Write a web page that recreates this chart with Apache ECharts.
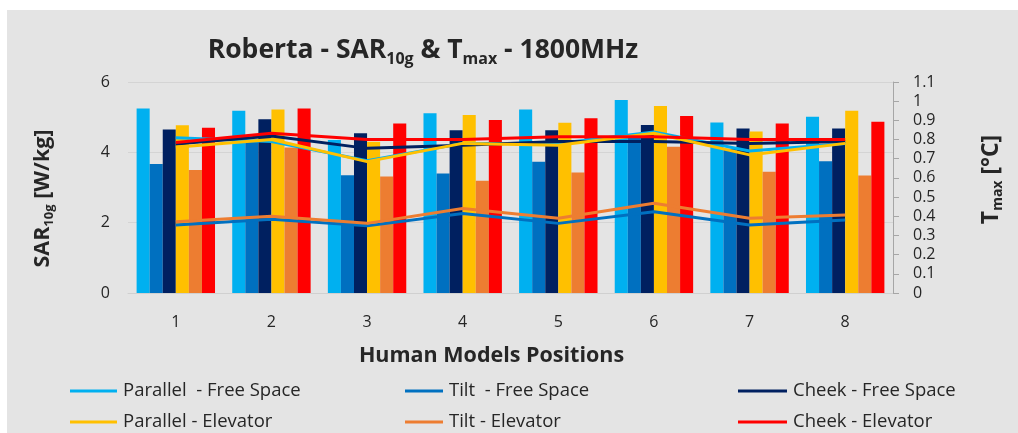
<!DOCTYPE html>
<html>
<head>
<meta charset="utf-8">
<script src="https://cdn.jsdelivr.net/npm/echarts@6/dist/echarts.min.js"></script>
<style>
  html, body { margin: 0; padding: 0; background: #ffffff; }
  #chart { width: 1018px; height: 433px; }
</style>
</head>
<body>
<div id="chart"></div>
<script>
// Human model positions on the x axis
const positions = ['1', '2', '3', '4', '5', '6', '7', '8'];

// SAR10g [W/kg] per position (bars, left axis)
const sarParallelFree = [5.25, 5.18, 4.35, 5.11, 5.22, 5.49, 4.85, 5.01];
const sarTiltFree     = [3.67, 4.30, 3.35, 3.40, 3.73, 4.45, 4.10, 3.75];
const sarCheekFree    = [4.65, 4.94, 4.54, 4.63, 4.63, 4.78, 4.68, 4.68];
const sarParallelElev = [4.77, 5.22, 4.30, 5.06, 4.84, 5.32, 4.59, 5.18];
const sarTiltElev     = [3.50, 4.14, 3.31, 3.19, 3.43, 4.16, 3.45, 3.34];
const sarCheekElev    = [4.70, 5.25, 4.82, 4.92, 4.97, 5.03, 4.82, 4.87];

// Tmax [°C] per position (lines, right axis)
const tParallelFree = [0.810, 0.790, 0.690, 0.780, 0.780, 0.840, 0.740, 0.780];
const tTiltFree     = [0.355, 0.384, 0.350, 0.415, 0.363, 0.424, 0.355, 0.380];
const tCheekFree    = [0.777, 0.818, 0.754, 0.770, 0.790, 0.790, 0.780, 0.790];
const tParallelElev = [0.760, 0.800, 0.685, 0.780, 0.770, 0.833, 0.720, 0.780];
const tTiltElev     = [0.372, 0.400, 0.363, 0.440, 0.390, 0.468, 0.390, 0.407];
const tCheekElev    = [0.784, 0.833, 0.800, 0.800, 0.815, 0.815, 0.800, 0.800];

const seriesNames = [
  'Parallel  - Free Space', 'Tilt  - Free Space', 'Cheek - Free Space',
  'Parallel - Elevator', 'Tilt - Elevator', 'Cheek - Elevator'
];
const seriesColors = ['#00b0f0', '#0070c0', '#002060', '#ffc000', '#ed7d31', '#ff0000'];
const sarData = [sarParallelFree, sarTiltFree, sarCheekFree, sarParallelElev, sarTiltElev, sarCheekElev];
const tempData = [tParallelFree, tTiltFree, tCheekFree, tParallelElev, tTiltElev, tCheekElev];

const FONT = '"Open Sans", Lato, sans-serif';
const TXT = '#262626';

const series = [];
seriesNames.forEach((name, i) => {
  series.push({
    name, type: 'bar', yAxisIndex: 0, data: sarData[i],
    barGap: '0%', barCategoryGap: '18%',
    itemStyle: { color: seriesColors[i] }
  });
});
seriesNames.forEach((name, i) => {
  series.push({
    name, type: 'line', yAxisIndex: 1, data: tempData[i],
    symbol: 'none', z: 5,
    lineStyle: { color: seriesColors[i], width: 3 },
    itemStyle: { color: seriesColors[i] }
  });
});

// one legend per entry so they sit in a 3 x 2 layout
const legendSlots = [
  { left: 70,  top: 379, w: 47 }, { left: 405, top: 379, w: 38 }, { left: 738, top: 379, w: 49 },
  { left: 70,  top: 410, w: 47 }, { left: 405, top: 410, w: 38 }, { left: 738, top: 410, w: 49 }
];
const legends = seriesNames.map((name, i) => ({
  data: [name],
  left: legendSlots[i].left, top: legendSlots[i].top,
  padding: 0,
  icon: 'rect', itemWidth: legendSlots[i].w, itemHeight: 3,
  selectedMode: false,
  textStyle: { fontFamily: FONT, fontSize: 18.5, color: TXT, lineHeight: 24, padding: [0, 0, 0, 1] }
}));

const subRich = (size, lh) => ({
  b: { fontFamily: FONT, fontWeight: 'bold', fontSize: size, color: TXT, lineHeight: lh },
  s: { fontFamily: FONT, fontWeight: 'bold', fontSize: Math.round(size * 0.62), color: TXT,
       lineHeight: Math.round(size * 0.6), verticalAlign: 'bottom' }
});

const chart = echarts.init(document.getElementById('chart'));
chart.setOption({
  animation: false,
  backgroundColor: '#ffffff',
  graphic: [{
    type: 'rect', z: -100, silent: true,
    shape: { x: 7, y: 10, width: 1011, height: 423 },
    style: { fill: '#e4e4e4' }
  }],
  title: {
    text: '{b|Roberta - SAR}{s|10g}{b| & T}{s|max}{b| - 1800MHz}',
    left: 418, top: 28, textAlign: 'center',
    textStyle: { rich: subRich(26.5, 34) }
  },
  legend: legends,
  grid: { left: 128, right: 125, top: 82, bottom: 140 },
  xAxis: {
    type: 'category', data: positions,
    name: 'Human Models Positions', nameLocation: 'middle', nameGap: 52,
    nameTextStyle: { fontFamily: FONT, fontWeight: 'bold', fontSize: 21.5, color: TXT, padding: [0, 38, 0, 0] },
    axisLine: { lineStyle: { color: '#d0d0d0' } },
    axisTick: { show: false },
    axisLabel: { fontFamily: FONT, fontSize: 16, color: TXT, margin: 21 }
  },
  yAxis: [{
    type: 'value', min: 0, max: 6, interval: 2,
    name: '{b|SAR}{s|10g}{b| [W/kg]}', nameLocation: 'middle', nameGap: 72, nameRotate: 90,
    nameTextStyle: { rich: subRich(21.5, 27), padding: [0, 22, 0, 0] },
    axisLine: { show: false }, axisTick: { show: false },
    axisLabel: { fontFamily: FONT, fontSize: 16, color: TXT, margin: 18 },
    splitLine: { lineStyle: { color: '#d4d4d4' } }
  }, {
    type: 'value', min: 0, max: 1.1, interval: 0.1, position: 'right',
    name: '{b|T}{s|max}{b| [°C]}', nameLocation: 'middle', nameGap: 84, nameRotate: 90,
    nameTextStyle: { rich: subRich(23, 28), padding: [0, 0, 0, 16] },
    axisLine: { show: true, lineStyle: { color: '#a6a6a6' } },
    axisTick: { show: true, length: 6, lineStyle: { color: '#a6a6a6' } },
    axisLabel: { fontFamily: FONT, fontSize: 16, color: TXT, margin: 20,
                 formatter: v => String(+v.toFixed(1)) },
    splitLine: { show: false }
  }],
  series
});
</script>
</body>
</html>
